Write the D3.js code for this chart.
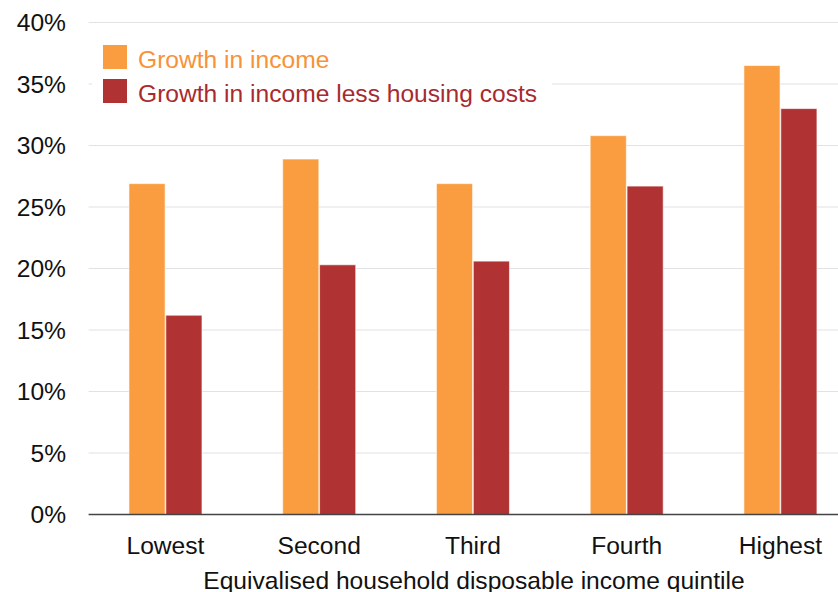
<!DOCTYPE html>
<html>
<head>
<meta charset="utf-8">
<script src="https://cdn.jsdelivr.net/npm/d3@7"></script>
<style>
  body { margin: 0; background: #fff; }
  svg { display: block; font-family: "Liberation Sans", Arial, sans-serif; }
</style>
</head>
<body>
<svg id="chart"></svg>
<script>
// data
const quintiles = ["Lowest", "Second", "Third", "Fourth", "Highest"];
const seriesNames = ["Growth in income", "Growth in income less housing costs"];
const growthIncome = [26.9, 28.9, 26.9, 30.8, 36.5];
const growthLessHousing = [16.2, 20.3, 20.6, 26.7, 33.0];
const yTicks = [0, 5, 10, 15, 20, 25, 30, 35, 40];
const colors = ["#f99d40", "#b03232"];
const textColors = ["#f7923a", "#a82a2e"];

const width = 838, height = 592;
const plot = { left: 88.6, right: 857.3, top: 22.5, bottom: 514.5 };
const fontSize = "24.6px";

const svg = d3.select("#chart")
    .attr("width", width)
    .attr("height", height);

const x = d3.scaleBand()
    .domain(quintiles)
    .range([plot.left, plot.right]);

const x1 = d3.scaleBand()
    .domain([0, 1])
    .range([x.bandwidth() / 2 - 36.5, x.bandwidth() / 2 + 36.5])
    .paddingInner(0.02);

const y = d3.scaleLinear()
    .domain([0, 40])
    .range([plot.bottom, plot.top]);

// gridlines
svg.append("g")
    .selectAll("line")
    .data(yTicks.filter(d => d > 0))
    .enter().append("line")
    .attr("x1", plot.left)
    .attr("x2", width)
    .attr("y1", d => y(d))
    .attr("y2", d => y(d))
    .attr("stroke", "#e2e2e2")
    .attr("stroke-width", 1.2);

// y tick labels
svg.append("g")
    .selectAll("text")
    .data(yTicks)
    .enter().append("text")
    .attr("x", 66)
    .attr("y", d => y(d))
    .attr("dy", "0.35em")
    .attr("text-anchor", "end")
    .style("font-size", fontSize)
    .attr("fill", "#111")
    .text(d => d + "%");

// bars
const series = [growthIncome, growthLessHousing];
const groups = svg.append("g")
    .selectAll("g")
    .data(quintiles)
    .enter().append("g")
    .attr("transform", d => `translate(${x(d)},0)`);

groups.selectAll("rect")
    .data((d, i) => series.map((s, k) => ({ k: k, v: s[i] })))
    .enter().append("rect")
    .attr("x", d => x1(d.k))
    .attr("width", x1.bandwidth())
    .attr("y", d => y(d.v))
    .attr("height", d => y(0) - y(d.v))
    .attr("fill", d => colors[d.k])
    .attr("stroke", "#fff")
    .attr("stroke-opacity", 0.6)
    .attr("stroke-width", 1);

// baseline
svg.append("line")
    .attr("x1", plot.left)
    .attr("x2", width)
    .attr("y1", y(0))
    .attr("y2", y(0))
    .attr("stroke", "#444")
    .attr("stroke-width", 1.5);

// x labels
svg.append("g")
    .selectAll("text")
    .data(quintiles)
    .enter().append("text")
    .attr("x", d => x(d) + x.bandwidth() / 2)
    .attr("y", 554)
    .attr("text-anchor", "middle")
    .style("font-size", fontSize)
    .attr("fill", "#111")
    .text(d => d);

svg.append("text")
    .attr("x", 474)
    .attr("y", 589)
    .attr("text-anchor", "middle")
    .style("font-size", fontSize)
    .attr("fill", "#111")
    .text("Equivalised household disposable income quintile");

// legend with white box over the gridlines
const legend = svg.append("g");
legend.append("rect")
    .attr("x", 92)
    .attr("y", 38)
    .attr("width", 460)
    .attr("height", 72)
    .attr("fill", "#fff");

const items = legend.selectAll("g")
    .data(seriesNames)
    .enter().append("g")
    .attr("transform", (d, i) => `translate(103,${45 + i * 34})`);

items.append("rect")
    .attr("width", 24)
    .attr("height", 24)
    .attr("fill", (d, i) => colors[i]);

items.append("text")
    .attr("x", 35)
    .attr("y", 22.5)
    .style("font-size", fontSize)
    .attr("fill", (d, i) => textColors[i])
    .text(d => d);
</script>
</body>
</html>
